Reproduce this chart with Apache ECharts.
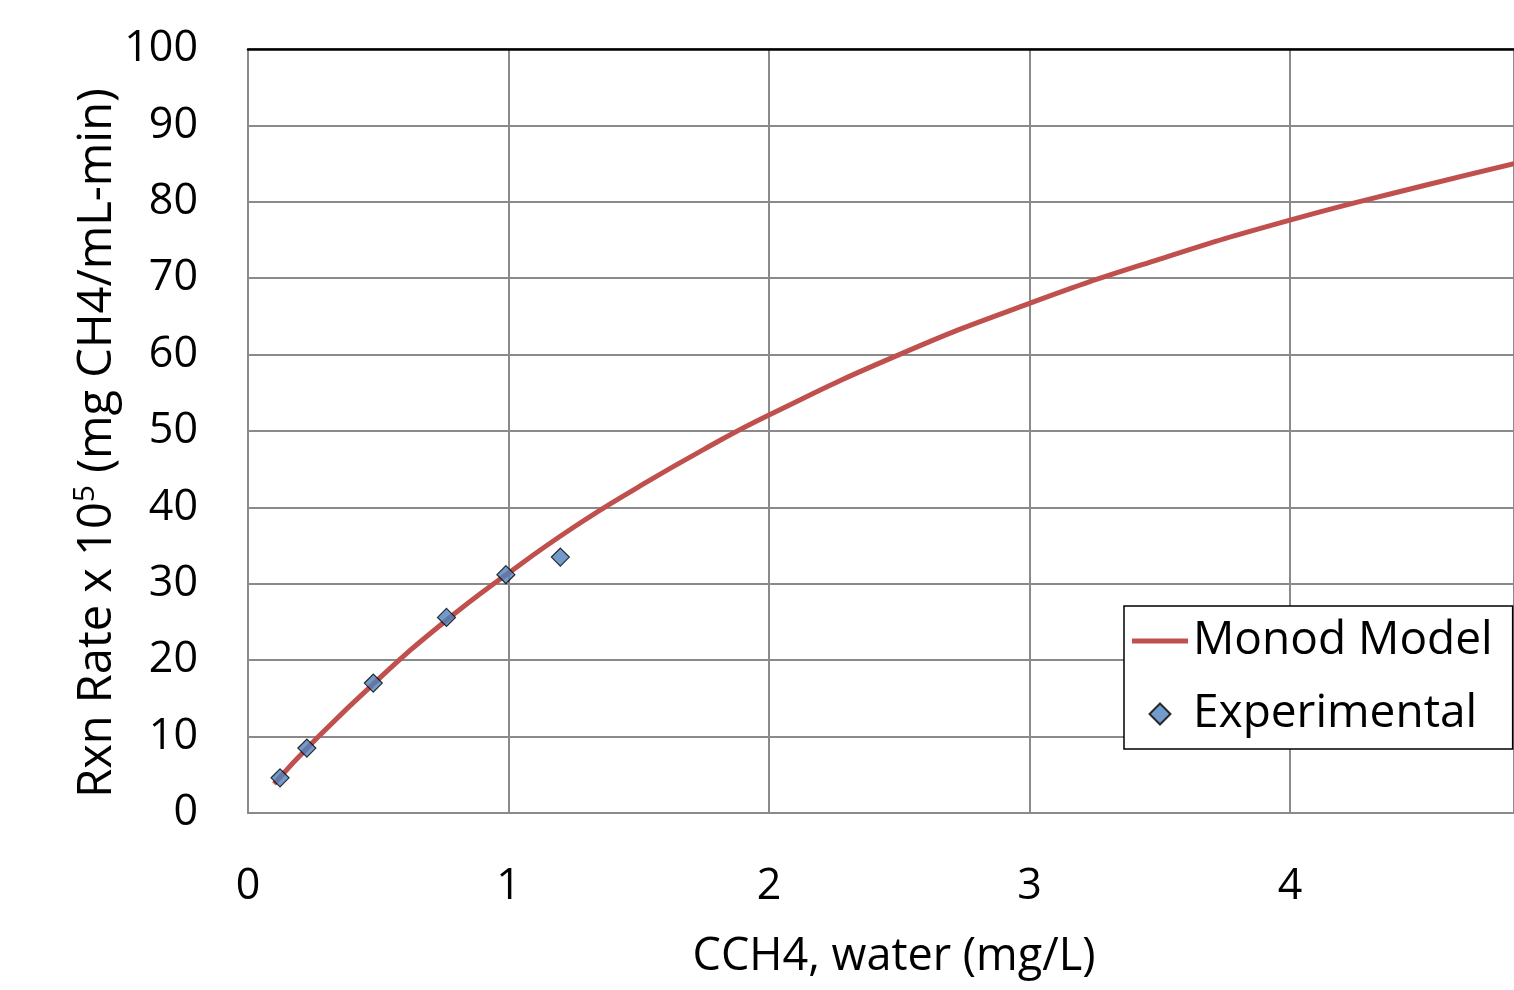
<!DOCTYPE html>
<html>
<head>
<meta charset="UTF-8">
<title>Monod Model</title>
<script src="https://cdn.jsdelivr.net/npm/echarts@6/dist/echarts.min.js"></script>
<style>
  html, body { margin: 0; padding: 0; background: #fff; }
  #main { width: 1514px; height: 990px; }
</style>
</head>
<body>
<div id="main"></div>
<script>
// values
var modelX = [0.1, 0.25, 0.5, 0.75, 1.0, 1.25, 1.5, 1.75, 2.0, 2.5, 3.0, 3.5, 4.0, 4.5, 4.86];
var modelY = [3.8, 9.3, 17.5, 24.9, 31.4, 37.4, 42.7, 47.6, 52.1, 60.0, 66.7, 72.5, 77.6, 82.0, 85.0];
var expX = [0.123, 0.226, 0.481, 0.762, 0.99, 1.199];
var expY = [4.6, 8.5, 17.0, 25.6, 31.2, 33.5];
var xTicks = [0, 1, 2, 3, 4];

var FONT = '"Open Sans", "Liberation Sans", sans-serif';
var GRIDC = '#8a8a8a';
var DIAMOND = 'path://M0,-1 L1,0 L0,1 L-1,0 Z';
var BAR = 'path://M0,0 L56,0 L56,5 L0,5 Z';

function pairs(xs, ys) {
    var out = [];
    for (var i = 0; i < xs.length; i++) out.push([xs[i], ys[i]]);
    return out;
}

var chart = echarts.init(document.getElementById('main'));
chart.setOption({
    backgroundColor: '#fff',
    animation: false,
    grid: { left: 248, right: -2, top: 49, bottom: 177 },
    legend: {
        left: 1124, top: 606,
        orient: 'vertical',
        backgroundColor: '#fff',
        borderColor: '#000', borderWidth: 1.5, borderRadius: 0,
        padding: [12, 20, 12, 8],
        itemWidth: 56, itemHeight: 21, itemGap: 27,
        lineStyle: { width: 5 },
        textStyle: { fontFamily: FONT, fontSize: 46, color: '#000' },
        data: [
            { name: 'Monod Model', icon: BAR },
            { name: 'Experimental', icon: DIAMOND }
        ]
    },
    xAxis: [{
        type: 'value', min: 0, max: 4.86, interval: 1,
        name: 'CCH4, water (mg/L)', nameLocation: 'middle', nameGap: 122,
        nameTextStyle: { fontFamily: FONT, fontSize: 45, color: '#000', padding: [0, 0, 0, 26] },
        axisLine: { lineStyle: { color: GRIDC, width: 2 } },
        axisTick: { show: false },
        axisLabel: {
            margin: 52, fontFamily: FONT, fontSize: 43, color: '#000', showMaxLabel: false,
            formatter: function (v) { return xTicks.indexOf(v) >= 0 ? String(v) : ''; }
        },
        splitLine: { lineStyle: { color: GRIDC, width: 2 } }
    }, {
        type: 'value', position: 'top', min: 0, max: 4.86,
        axisLine: { lineStyle: { color: '#000', width: 2.5 } },
        axisTick: { show: false }, axisLabel: { show: false }, splitLine: { show: false }
    }],
    yAxis: {
        type: 'value', min: 0, max: 100, interval: 10,
        name: '{a|Rxn Rate x 10}{s|5}{a| (mg CH4/mL-min)}',
        nameLocation: 'middle', nameGap: 122, nameRotate: 90,
        nameMoveOverlap: false,
        nameTextStyle: {
            padding: [0, 24, 0, 0],
            rich: {
                a: { fontFamily: FONT, fontSize: 47, color: '#000', lineHeight: 56 },
                s: { fontFamily: FONT, fontSize: 30, color: '#000', verticalAlign: 'top', lineHeight: 32 }
            }
        },
        axisLine: { show: true, lineStyle: { color: GRIDC, width: 2 } },
        axisTick: { show: false },
        axisLabel: { margin: 50, fontFamily: FONT, fontSize: 43, color: '#000' },
        splitLine: { lineStyle: { color: GRIDC, width: 2 } }
    },
    series: [{
        name: 'Monod Model',
        type: 'line',
        smooth: true,
        symbol: 'none',
        data: pairs(modelX, modelY),
        lineStyle: { color: '#C0504D', width: 5 },
        itemStyle: { color: '#C0504D' },
        z: 3
    }, {
        name: 'Experimental',
        type: 'scatter',
        symbol: 'diamond',
        symbolSize: 18,
        data: pairs(expX, expY),
        itemStyle: { color: '#4F81BD', borderColor: '#000', borderWidth: 1.2 },
        z: 4
    }]
});
</script>
</body>
</html>
